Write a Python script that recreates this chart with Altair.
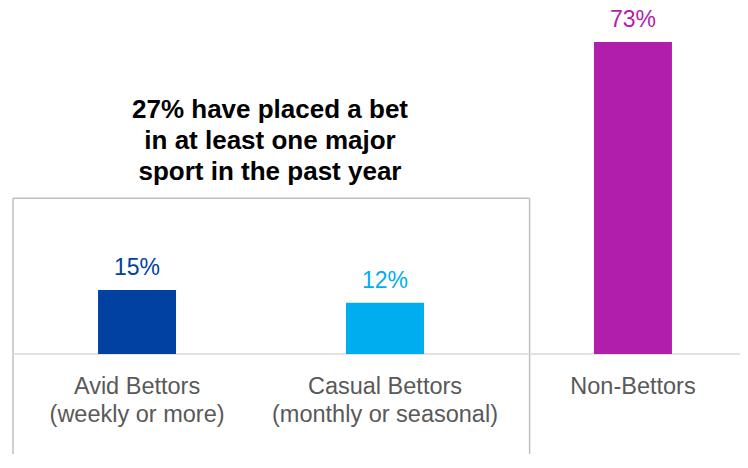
import altair as alt
import pandas as pd

categories = ["Avid Bettors\n(weekly or more)", "Casual Bettors\n(monthly or seasonal)", "Non-Bettors"]
values = [15, 12, 73]
value_labels = ["15%", "12%", "73%"]
colors = ["#0041A1", "#00AEEF", "#B11EAB"]
annotation = "27% have placed a bet\nin at least one major\nsport in the past year"

FONT = "Liberation Sans"

df = pd.DataFrame({"category": categories, "value": values, "label": value_labels})

x_enc = alt.X("category:N", sort=None,
              scale=alt.Scale(range=[0, 744], paddingInner=0.6855, paddingOuter=0.343),
              axis=alt.Axis(title=None, labelAngle=0, ticks=False, labelPadding=20,
                            labelFont=FONT, labelFontSize=23.5, labelColor="#595959",
                            labelLineHeight=28, labelLimit=0,
                            labelExpr="split(datum.label, '\\n')",
                            domain=False))
y_enc = alt.Y("value:Q", scale=alt.Scale(domain=[0, 80], nice=False), axis=None)
color_enc = alt.Color("category:N", sort=None,
                      scale=alt.Scale(domain=categories, range=colors), legend=None)

base = alt.Chart(df)

one = pd.DataFrame({"k": [0]})

baseline = alt.Chart(one).mark_rule(color="#D9D9D9", strokeWidth=1.5).encode(
    x=alt.value(-1), x2=alt.value(727), y=alt.value(342))

box_left = alt.Chart(one).mark_rule(color="#BFBFBF", strokeWidth=1.5).encode(
    x=alt.value(0), y=alt.value(186.3), y2=alt.value(442))
box_right = alt.Chart(one).mark_rule(color="#BFBFBF", strokeWidth=1.5).encode(
    x=alt.value(516.6), y=alt.value(186.3), y2=alt.value(442))
box_top = alt.Chart(one).mark_rule(color="#BFBFBF", strokeWidth=1.5).encode(
    x=alt.value(0), x2=alt.value(516.6), y=alt.value(186.3))

bars = base.mark_bar().encode(x=x_enc, y=y_enc, color=color_enc)

value_text = base.mark_text(font=FONT, fontSize=23, baseline="alphabetic", dy=-15).encode(
    x=x_enc, y=y_enc, text="label:N", color=color_enc)

title_text = alt.Chart(pd.DataFrame({"t": [annotation]})).mark_text(
    font=FONT, fontSize=26, fontWeight="bold", color="#000000",
    align="center", baseline="top", lineBreak="\n", lineHeight=31).encode(
    x=alt.value(257), y=alt.value(85), text="t:N")

chart = alt.layer(box_left, box_right, box_top, baseline, bars, value_text, title_text).properties(
    width=727, height=342,
    padding={"left": 5, "top": 4, "right": 0, "bottom": 100},
    autosize=alt.AutoSizeParams(type="none"),
    background="white",
).configure_view(stroke=None)

chart.save("out.html", embed_options={"renderer": "svg", "actions": False})
